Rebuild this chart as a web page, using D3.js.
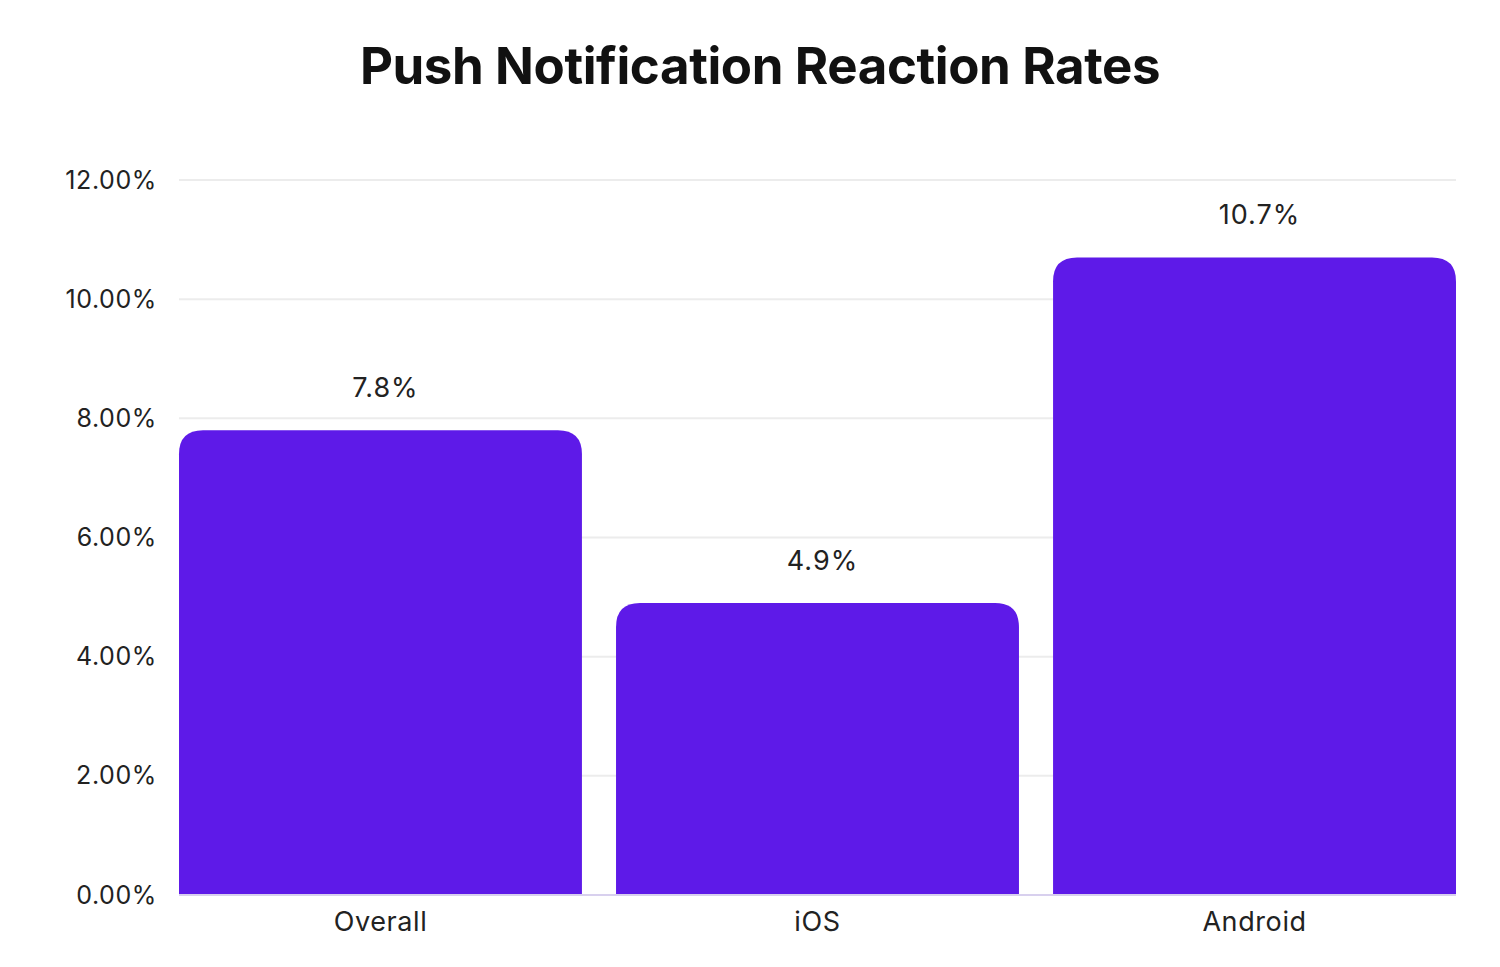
<!DOCTYPE html>
<html>
<head>
<meta charset="utf-8">
<script src="https://cdn.jsdelivr.net/npm/d3@7"></script>
<style>
  body { margin: 0; background: #fff; }
  svg { display: block; font-family: Inter, "Noto Sans", sans-serif; }
</style>
</head>
<body>
<svg id="chart" width="1500" height="967"></svg>
<script>
const categories = ['Overall', 'iOS', 'Android'];
const rates = [7.8, 4.9, 10.7];
const yTicks = [0, 2, 4, 6, 8, 10, 12];

const svg = d3.select('#chart');
const margin = { top: 180, right: 44, bottom: 72, left: 179 };
const width = 1500 - margin.left - margin.right;
const height = 967 - margin.top - margin.bottom;

// titre
svg.append('text')
    .attr('x', 760)
    .attr('y', 84)
    .attr('text-anchor', 'middle')
    .attr('fill', '#111')
    .style('font-size', '51px')
    .style('font-weight', '700')
    .style('letter-spacing', '-0.4px')
    .text('Push Notification Reaction Rates');

const g = svg.append('g').attr('transform', `translate(${margin.left},${margin.top})`);

const x = d3.scaleBand().domain(categories).range([0, width]).paddingInner(0.078).paddingOuter(0);
const y = d3.scaleLinear().domain([0, 12]).range([height, 0]);

// grille
g.selectAll('line.grid')
    .data(yTicks.filter(t => t > 0))
    .enter()
    .append('line')
    .attr('class', 'grid')
    .attr('x1', 0)
    .attr('x2', width)
    .attr('y1', d => y(d))
    .attr('y2', d => y(d))
    .attr('stroke', '#ececec')
    .attr('stroke-width', 2);

// axe Y
const yAxis = g.append('g')
    .call(d3.axisLeft(y).tickValues(yTicks).tickFormat(d => d.toFixed(2) + '%').tickSize(0).tickPadding(22));
yAxis.select('.domain').remove();
yAxis.selectAll('text')
    .attr('fill', '#222')
    .style('font-size', '25px')
    .style('letter-spacing', '0.6px')
    .style('font-family', 'Inter, "Noto Sans", sans-serif');

// barres à coins supérieurs arrondis
const r = 24;
function barPath(d, i) {
    const x0 = x(categories[i]);
    const x1 = x0 + x.bandwidth();
    const yt = y(d);
    const yb = y(0);
    return `M${x0},${yb} L${x0},${yt + r} Q${x0},${yt} ${x0 + r},${yt} L${x1 - r},${yt} Q${x1},${yt} ${x1},${yt + r} L${x1},${yb} Z`;
}

g.selectAll('path.bar')
    .data(rates)
    .enter()
    .append('path')
    .attr('class', 'bar')
    .attr('d', barPath)
    .attr('fill', '#5E1AE8');

// ligne de base
g.append('line')
    .attr('x1', 0)
    .attr('x2', width)
    .attr('y1', y(0))
    .attr('y2', y(0))
    .attr('stroke', '#d8d0ee')
    .attr('stroke-width', 2);

// étiquettes de valeur
g.selectAll('text.value')
    .data(rates)
    .enter()
    .append('text')
    .attr('class', 'value')
    .attr('x', (d, i) => x(categories[i]) + x.bandwidth() / 2 + 5)
    .attr('y', d => y(d) - 33)
    .attr('text-anchor', 'middle')
    .attr('fill', '#222')
    .style('font-size', '27px')
    .style('letter-spacing', '1px')
    .text(d => d.toFixed(1) + '%');

// axe X
const xAxis = g.append('g')
    .attr('transform', `translate(0,${height})`)
    .call(d3.axisBottom(x).tickSize(0).tickPadding(17));
xAxis.select('.domain').remove();
xAxis.selectAll('text')
    .attr('fill', '#222')
    .style('font-size', '27px')
    .style('letter-spacing', '0.6px')
    .style('font-family', 'Inter, "Noto Sans", sans-serif');
</script>
</body>
</html>
